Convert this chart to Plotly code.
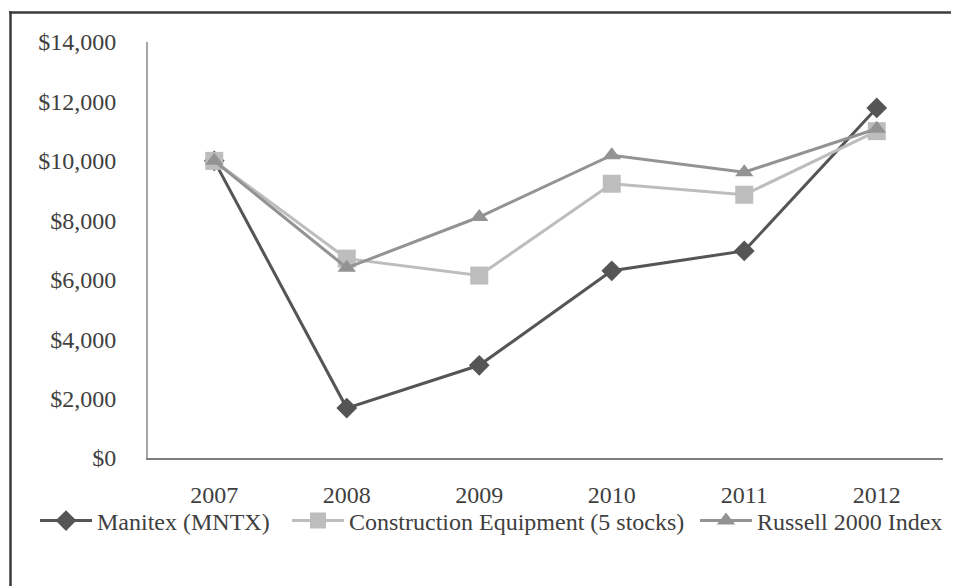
import plotly.graph_objects as go

years = ["2007", "2008", "2009", "2010", "2011", "2012"]
manitex = [10000, 1680, 3120, 6300, 6970, 11780]
construction = [10000, 6710, 6140, 9230, 8860, 11000]
russell = [10000, 6400, 8110, 10190, 9620, 11080]
y_ticks = [0, 2000, 4000, 6000, 8000, 10000, 12000, 14000]
y_tick_text = ["$0", "$2,000", "$4,000", "$6,000", "$8,000", "$10,000", "$12,000", "$14,000"]

# page body has an 8px default margin, so the figure is offset by 8px
OFF = 8
W, H = 959 - OFF, 586 - OFF
L, T = 148 - OFF, 42 - OFF
R = W - (943 - OFF)
B = H - (458 - OFF)

fig = go.Figure()
fig.add_trace(go.Scatter(
    x=years, y=manitex, name="Manitex (MNTX)", mode="lines+markers",
    line=dict(color="#555555", width=3),
    marker=dict(symbol="diamond", size=16, color="#555555"),
    legend="legend",
))
fig.add_trace(go.Scatter(
    x=years, y=construction, name="Construction Equipment (5 stocks)", mode="lines+markers",
    line=dict(color="#bdbdbd", width=3),
    marker=dict(symbol="square", size=18, color="#bdbdbd"),
    legend="legend2",
))
fig.add_trace(go.Scatter(
    x=years, y=russell, name="Russell 2000 Index", mode="lines+markers",
    line=dict(color="#939393", width=3),
    marker=dict(symbol="triangle-up", size=16, color="#939393"),
    legend="legend3",
))

pw = W - L - R
ph = H - T - B
def px_to_x(px):
    return (px - OFF - L) / pw
def px_to_y(py):
    return (H - B - (py - OFF)) / ph

# outer frame (top and left edges visible)
fig.add_shape(type="line", xref="paper", yref="paper",
              x0=px_to_x(9), x1=px_to_x(990), y0=px_to_y(12.5), y1=px_to_y(12.5),
              line=dict(color="#3a3a3a", width=2.5))
fig.add_shape(type="line", xref="paper", yref="paper",
              x0=px_to_x(10.5), x1=px_to_x(10.5), y0=px_to_y(11.5), y1=px_to_y(620),
              line=dict(color="#3a3a3a", width=2.5))

font = dict(family="Liberation Serif", size=24, color="#404040")
legend_font = dict(family="Liberation Serif", size=24, color="#404040")

def leg(px_left):
    return dict(orientation="h", xref="container", x=(px_left - OFF) / W, xanchor="left",
                yref="container", y=(H - (521 - OFF)) / H, yanchor="middle",
                font=legend_font, itemwidth=52, bgcolor="rgba(0,0,0,0)")

fig.update_layout(
    width=W, height=H,
    margin=dict(l=L, r=R, t=T, b=B, autoexpand=False),
    paper_bgcolor="white", plot_bgcolor="white",
    font=font,
    showlegend=True,
    legend=leg(35),
    legend2=leg(287),
    legend3=leg(695),
    xaxis=dict(type="category", range=[-0.5, 5.5], showgrid=False, zeroline=False,
               showline=True, linecolor="#7f7f7f", linewidth=2,
               ticks="", ticklabelstandoff=14, tickfont=font, tickangle=0),
    yaxis=dict(range=[0, 14000], tickvals=y_ticks, ticktext=y_tick_text,
               showgrid=False, zeroline=False, showline=True,
               linecolor="#a6a6a6", linewidth=2, ticks="",
               ticklabelstandoff=25, tickfont=font),
)

fig.write_html("out.html")
